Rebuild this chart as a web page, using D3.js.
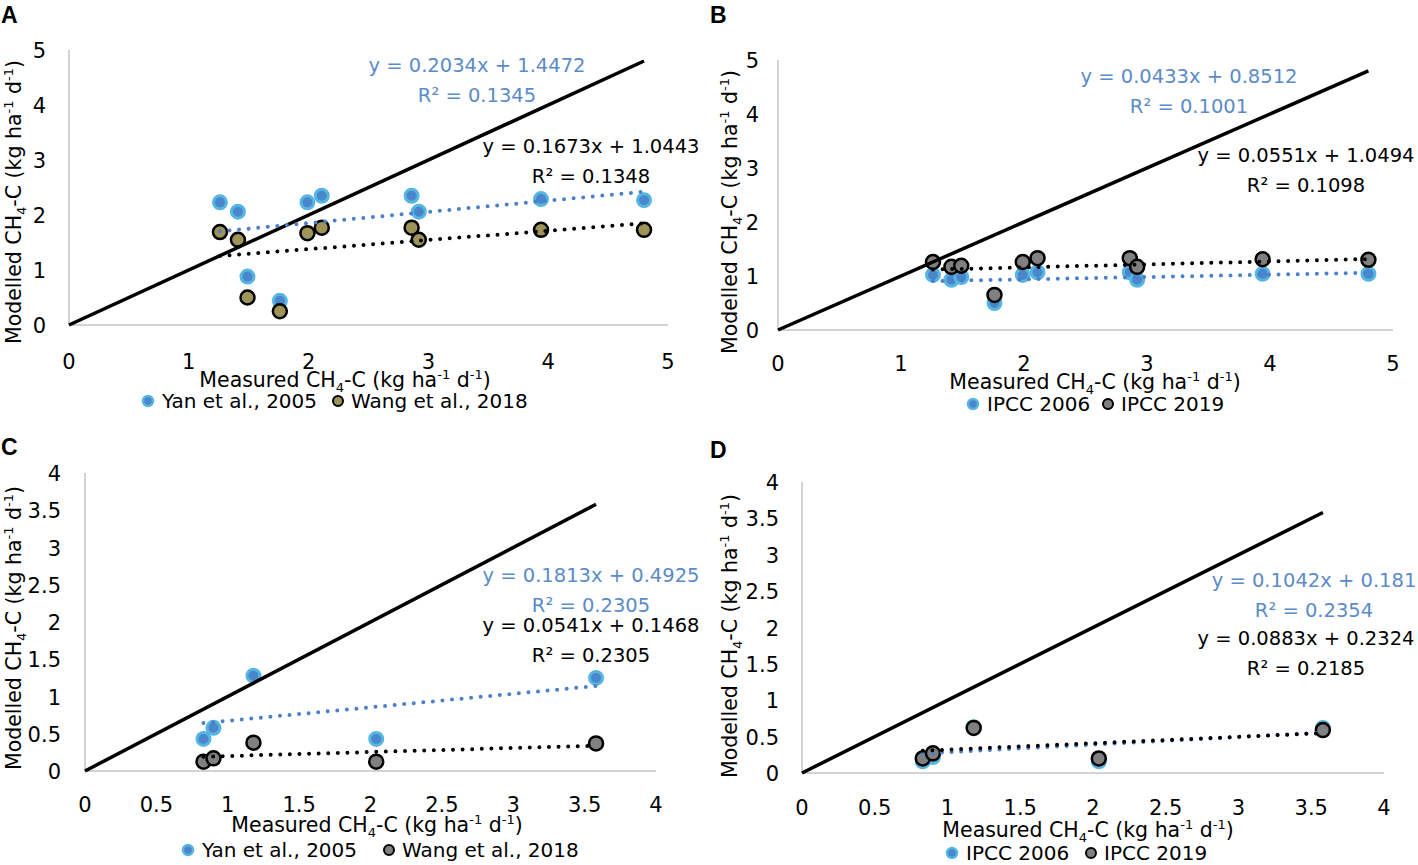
<!DOCTYPE html>
<html>
<head>
<meta charset="utf-8">
<script src="https://cdn.jsdelivr.net/npm/d3@7"></script>
<style>
  body { margin: 0; background: #fff; }
  text { font-family: "DejaVu Sans", sans-serif; }
</style>
</head>
<body>
<script>
// measured vs modelled CH4-C, four panels A-D

// --- data ---
var measuredAB = [1.26, 1.41, 1.49, 1.76, 1.99, 2.11, 2.86, 2.92, 3.94, 4.80];
var yanA = [2.23, 2.06, 0.88, 0.44, 2.23, 2.35, 2.35, 2.06, 2.29, 2.27];
var wangA = [1.69, 1.55, 0.50, 0.25, 1.67, 1.77, 1.77, 1.55, 1.73, 1.73];
var ipcc2006B = [1.02, 0.93, 0.98, 0.50, 1.02, 1.07, 1.07, 0.93, 1.04, 1.04];
var ipcc2019B = [1.26, 1.17, 1.19, 0.65, 1.26, 1.33, 1.33, 1.17, 1.31, 1.30];

var measuredCD = [0.83, 0.90, 1.18, 2.04, 3.58];
var yanC = [0.43, 0.58, 1.28, 0.43, 1.25];
var wangC = [0.125, 0.17, 0.38, 0.125, 0.37];
var ipcc2006D = [0.16, 0.22, 0.63, 0.16, 0.62];
var ipcc2019D = [0.20, 0.27, 0.62, 0.20, 0.59];

// trendline: [slope, intercept, r2]
var fitYanA = [0.2034, 1.4472, "0.1345"];
var fitWangA = [0.1673, 1.0443, "0.1348"];
var fit2006B = [0.0433, 0.8512, "0.1001"];
var fit2019B = [0.0551, 1.0494, "0.1098"];
var fitYanC = [0.1813, 0.4925, "0.2305"];
var fitWangC = [0.0541, 0.1468, "0.2305"];
var fit2006D = [0.1042, 0.181, "0.2354"];
var fit2019D = [0.0883, 0.2324, "0.2185"];

var ticksAB = [0, 1, 2, 3, 4, 5];
var ticksCD = [0, 0.5, 1, 1.5, 2, 2.5, 3, 3.5, 4];

var namesAC = ["Yan et al., 2005", "Wang et al., 2018"];
var namesBD = ["IPCC 2006", "IPCC 2019"];

// --- styles ---
var colors = {
  blueFill: "#4a86cc",
  blueRing: "#55b6e2",
  olive: "#9e9459",
  grey: "#808080",
  blueText: "#5b8bc8",
  blueDots: "#4a7fca",
  axis: "#d3d3d3"
};

var svg = d3.select("body").append("svg")
  .attr("width", 1418)
  .attr("height", 865);

var panels = [
  { letter: "A", lx: 1, ly: 23, x: [69, 668], y: [325, 50], max: 5, ticks: ticksAB,
    xs: measuredAB, s1: yanA, s2: wangA, fill2: colors.olive, f1: fitYanA, f2: fitWangA,
    names: namesAC, yLabX: 46, xLabY: 369, yTitle: [14, 202], xTitle: [345, 387],
    eq1: [477, 72], eq2: [591, 153], leg: [148, 338, 401] },
  { letter: "B", lx: 710, ly: 23, x: [778, 1393], y: [330, 60], max: 5, ticks: ticksAB,
    xs: measuredAB, s1: ipcc2006B, s2: ipcc2019B, fill2: colors.grey, f1: fit2006B, f2: fit2019B,
    names: namesBD, yLabX: 759, xLabY: 371, yTitle: [730, 212], xTitle: [1095, 389],
    eq1: [1189, 83], eq2: [1306, 162], leg: [973, 1108, 404] },
  { letter: "C", lx: 1, ly: 455, x: [85, 656], y: [771, 473], max: 4, ticks: ticksCD,
    xs: measuredCD, s1: yanC, s2: wangC, fill2: colors.grey, f1: fitYanC, f2: fitWangC,
    names: namesAC, yLabX: 61, xLabY: 812, yTitle: [14, 628], xTitle: [377, 832],
    eq1: [591, 582], eq2: [591, 632], leg: [188, 389, 850] },
  { letter: "D", lx: 710, ly: 458, x: [802, 1384], y: [773, 482], max: 4, ticks: ticksCD,
    xs: measuredCD, s1: ipcc2006D, s2: ipcc2019D, fill2: colors.grey, f1: fit2006D, f2: fit2019D,
    names: namesBD, yLabX: 779, xLabY: 815, yTitle: [730, 636], xTitle: [1088, 837],
    eq1: [1314, 587], eq2: [1306, 645], leg: [952, 1091, 853] }
];

function unitTitle(sel, first) {
  sel.append("tspan").text(first + " CH");
  sel.append("tspan").attr("dy", 5).attr("font-size", "13px").text("4");
  sel.append("tspan").attr("dy", -5).text("-C (kg ha");
  sel.append("tspan").attr("dy", -8).attr("font-size", "13px").text("-1");
  sel.append("tspan").attr("dy", 8).text(" d");
  sel.append("tspan").attr("dy", -8).attr("font-size", "13px").text("-1");
  sel.append("tspan").attr("dy", 8).text(")");
}

function fmtTick(d) { return d3.format("~g")(d); }

panels.forEach(function(p) {
  var g = svg.append("g");
  var xScale = d3.scaleLinear().domain([0, p.max]).range(p.x);
  var yScale = d3.scaleLinear().domain([0, p.max]).range(p.y);

  // panel letter
  g.append("text").attr("x", p.lx).attr("y", p.ly)
    .style("font-family", "'Liberation Sans', Arial, sans-serif")
    .style("font-weight", "bold").style("font-size", "23px").text(p.letter);

  // axes (light grey lines, no ticks)
  g.append("line").attr("x1", xScale(0)).attr("x2", xScale(p.max))
    .attr("y1", yScale(0)).attr("y2", yScale(0))
    .attr("stroke", colors.axis).attr("stroke-width", 2);
  g.append("line").attr("x1", xScale(0)).attr("x2", xScale(0))
    .attr("y1", yScale(0)).attr("y2", yScale(p.max))
    .attr("stroke", colors.axis).attr("stroke-width", 2);

  g.selectAll(".xt").data(p.ticks).enter().append("text")
    .attr("x", function(d) { return xScale(d); })
    .attr("y", p.xLabY)
    .attr("text-anchor", "middle").style("font-size", "21px")
    .text(fmtTick);
  g.selectAll(".yt").data(p.ticks).enter().append("text")
    .attr("x", p.yLabX)
    .attr("y", function(d) { return yScale(d) + 8; })
    .attr("text-anchor", "end").style("font-size", "21px")
    .text(fmtTick);

  // axis titles
  g.append("text").attr("x", p.xTitle[0]).attr("y", p.xTitle[1])
    .attr("text-anchor", "middle").style("font-size", "20.5px")
    .call(unitTitle, "Measured");
  g.append("text")
    .attr("transform", "translate(" + (p.yTitle[0] + 7) + "," + p.yTitle[1] + ") rotate(-90)")
    .attr("text-anchor", "middle").style("font-size", "20.5px")
    .call(unitTitle, "Modelled");

  // markers
  var pts1 = p.xs.map(function(x, i) { return [x, p.s1[i]]; });
  var pts2 = p.xs.map(function(x, i) { return [x, p.s2[i]]; });
  g.selectAll(".m1").data(pts1).enter().append("circle")
    .attr("cx", function(d) { return xScale(d[0]); })
    .attr("cy", function(d) { return yScale(d[1]); })
    .attr("r", 6.5).attr("fill", colors.blueFill)
    .attr("stroke", colors.blueRing).attr("stroke-width", 3);
  g.selectAll(".m2").data(pts2).enter().append("circle")
    .attr("cx", function(d) { return xScale(d[0]); })
    .attr("cy", function(d) { return yScale(d[1]); })
    .attr("r", 7).attr("fill", p.fill2)
    .attr("stroke", "#000").attr("stroke-width", 2.5);

  // 1:1 line
  var xmax = d3.max(p.xs), xmin = d3.min(p.xs);
  g.append("line").attr("x1", xScale(0)).attr("y1", yScale(0))
    .attr("x2", xScale(xmax)).attr("y2", yScale(xmax))
    .attr("stroke", "#000").attr("stroke-width", 3.5);

  // trendlines
  [[p.f1, colors.blueDots], [p.f2, "#000"]].forEach(function(t) {
    var f = t[0];
    g.append("line")
      .attr("x1", xScale(xmin)).attr("y1", yScale(f[0] * xmin + f[1]))
      .attr("x2", xScale(xmax)).attr("y2", yScale(f[0] * xmax + f[1]))
      .attr("stroke", t[1]).attr("stroke-width", 4)
      .attr("stroke-linecap", "round").attr("stroke-dasharray", "0 9.6");
  });

  // equations
  [[p.f1, p.eq1, colors.blueText], [p.f2, p.eq2, "#000"]].forEach(function(t) {
    var f = t[0], pos = t[1];
    g.append("text").attr("x", pos[0]).attr("y", pos[1])
      .attr("text-anchor", "middle").style("font-size", "19.5px").attr("fill", t[2])
      .text("y = " + f[0] + "x + " + f[1]);
    g.append("text").attr("x", pos[0]).attr("y", pos[1] + 30)
      .attr("text-anchor", "middle").style("font-size", "19.5px").attr("fill", t[2])
      .text("R\u00b2 = " + f[2]);
  });

  // legend
  var ly = p.leg[2];
  g.append("circle").attr("cx", p.leg[0]).attr("cy", ly).attr("r", 5)
    .attr("fill", colors.blueFill).attr("stroke", colors.blueRing).attr("stroke-width", 2.5);
  g.append("text").attr("x", p.leg[0] + 14).attr("y", ly + 7)
    .style("font-size", "20px").text(p.names[0]);
  g.append("circle").attr("cx", p.leg[1]).attr("cy", ly).attr("r", 5)
    .attr("fill", p.fill2).attr("stroke", "#000").attr("stroke-width", 2);
  g.append("text").attr("x", p.leg[1] + 13).attr("y", ly + 7)
    .style("font-size", "20px").text(p.names[1]);
});
</script>
</body>
</html>
